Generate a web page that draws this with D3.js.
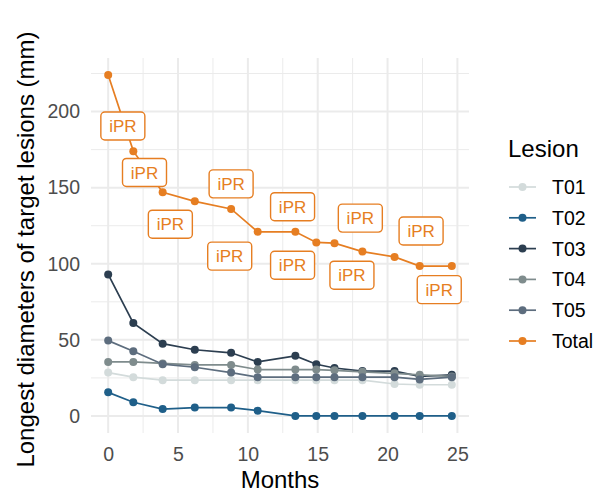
<!DOCTYPE html>
<html>
<head>
<meta charset="utf-8">
<script src="https://cdn.jsdelivr.net/npm/d3@7"></script>
<style>
  body { margin: 0; background: #fff; }
  text { font-family: "Liberation Sans", Arial, sans-serif; }
</style>
</head>
<body>
<svg id="chart" width="602" height="493"></svg>
<script>
// data
const months = [0, 1.8, 3.9, 6.2, 8.8, 10.7, 13.4, 14.9, 16.2, 18.2, 20.5, 22.3, 24.6];
const lesions = ["T01", "T02", "T03", "T04", "T05", "Total"];
const T01 = [28.5, 25.5, 23.5, 23.5, 23.5, 23.5, 23.5, 23.5, 23.5, 23.5, 21, 20.5, 20.5];
const T02 = [15.5, 9, 4.5, 5.5, 5.5, 3.5, 0, 0, 0, 0, 0, 0, 0];
const T03 = [93, 61, 47.5, 43.5, 41.5, 35.5, 39.5, 34, 31.5, 29.5, 29.5, 26, 27];
const T04 = [35.5, 35.5, 34.5, 33.5, 33.5, 30.5, 30.5, 30.5, 30, 29, 28, 27, 26];
const T05 = [49.5, 42.5, 34, 32, 28.5, 25.5, 25.5, 25.5, 25.5, 25.5, 25.5, 24, 25.5];
const Total = [224, 174, 147, 141, 136, 121, 121, 114, 113.5, 108, 104.5, 98.5, 98.5];

// "iPR" response labels (repelled positions, in data units)
const labelText = "iPR";
const labelMonth = [1.05, 2.6, 4.45, 8.8, 8.7, 13.2, 13.2, 18.05, 17.45, 22.4, 23.7];
const labelValue = [190.5, 160, 126, 152.5, 105, 137.5, 99, 130, 92.5, 121.5, 83];

const xTicks = [0, 5, 10, 15, 20, 25];
const yTicks = [0, 50, 100, 150, 200];

const colors = {
  T01: "#d3dbdb",
  T02: "#1f5f89",
  T03: "#2c3e50",
  T04: "#7f8c8d",
  T05: "#5d6d7e",
  Total: "#e67e22",
};

const valuesBy = { T01, T02, T03, T04, T05, Total };

// layout
const PANEL = { left: 91, right: 469, top: 58, bottom: 433 };
const TITLE_SIZE = "24px";
const TICK_SIZE = "19.5px";
const svg = d3.select("#chart");

const xMax = d3.max(months);
const yMax = d3.max(Total);
const x = d3.scaleLinear()
  .domain([-0.05 * xMax, xMax * 1.05])
  .range([PANEL.left, PANEL.right]);
const y = d3.scaleLinear()
  .domain([-0.05 * yMax, yMax * 1.05])
  .range([PANEL.bottom, PANEL.top]);

// grid
const grid = svg.append("g").attr("id", "grid");
const xMinor = xTicks.map((d) => d + 2.5).filter((d) => d <= x.domain()[1]);
const yMinor = yTicks.map((d) => d + 25).filter((d) => d <= y.domain()[1]);

grid.selectAll(".xminor").data(xMinor).join("line")
  .attr("x1", x).attr("x2", x)
  .attr("y1", PANEL.top).attr("y2", PANEL.bottom)
  .attr("stroke", "#ebebeb").attr("stroke-width", 1);
grid.selectAll(".yminor").data(yMinor).join("line")
  .attr("y1", y).attr("y2", y)
  .attr("x1", PANEL.left).attr("x2", PANEL.right)
  .attr("stroke", "#ebebeb").attr("stroke-width", 1);
grid.selectAll(".xmajor").data(xTicks).join("line")
  .attr("x1", x).attr("x2", x)
  .attr("y1", PANEL.top).attr("y2", PANEL.bottom)
  .attr("stroke", "#ebebeb").attr("stroke-width", 2);
grid.selectAll(".ymajor").data(yTicks).join("line")
  .attr("y1", y).attr("y2", y)
  .attr("x1", PANEL.left).attr("x2", PANEL.right)
  .attr("stroke", "#ebebeb").attr("stroke-width", 2);

// axes (labels only, like theme_minimal)
const xAxis = svg.append("g")
  .attr("transform", `translate(0, ${PANEL.bottom + 4})`)
  .call(d3.axisBottom(x).tickValues(xTicks).tickSize(0).tickPadding(10));
const yAxis = svg.append("g")
  .attr("transform", `translate(${PANEL.left - 4}, 0)`)
  .call(d3.axisLeft(y).tickValues(yTicks).tickSize(0).tickPadding(7));
[xAxis, yAxis].forEach((g) => {
  g.select(".domain").remove();
  g.selectAll("text")
    .attr("fill", "#4d4d4d")
    .style("font-size", TICK_SIZE)
    .style("font-family", "'Liberation Sans', Arial, sans-serif");
});

svg.append("text")
  .attr("x", (PANEL.left + PANEL.right) / 2)
  .attr("y", 488)
  .attr("text-anchor", "middle")
  .style("font-size", TITLE_SIZE)
  .text("Months");

svg.append("text")
  .attr("transform", `translate(34, ${(PANEL.top + PANEL.bottom) / 2 + 4}) rotate(-90)`)
  .attr("text-anchor", "middle")
  .style("font-size", TITLE_SIZE)
  .text("Longest diameters of target lesions (mm)");

// series lines and points
const line = d3.line()
  .x((d) => x(d[0]))
  .y((d) => y(d[1]));

const series = svg.append("g").attr("id", "series");
lesions.forEach((name) => {
  const pts = months.map((m, i) => [m, valuesBy[name][i]]);
  const g = series.append("g");
  g.append("path")
    .datum(pts)
    .attr("fill", "none")
    .attr("stroke", colors[name])
    .attr("stroke-width", 1.7)
    .attr("d", line);
  g.selectAll("circle").data(pts).join("circle")
    .attr("cx", (d) => x(d[0]))
    .attr("cy", (d) => y(d[1]))
    .attr("r", 4)
    .attr("fill", colors[name]);
});

// iPR labels
const LABEL_W = 44;
const LABEL_H = 28;
const labels = svg.append("g").attr("id", "labels")
  .selectAll("g")
  .data(labelMonth.map((m, i) => [m, labelValue[i]]))
  .join("g")
  .attr("transform", (d) => `translate(${x(d[0])}, ${y(d[1])})`);
labels.append("rect")
  .attr("x", -LABEL_W / 2).attr("y", -LABEL_H / 2)
  .attr("width", LABEL_W).attr("height", LABEL_H)
  .attr("rx", 4)
  .attr("fill", "#fff")
  .attr("stroke", colors.Total)
  .attr("stroke-width", 1.4);
labels.append("text")
  .attr("text-anchor", "middle")
  .attr("dy", "0.36em")
  .attr("fill", colors.Total)
  .style("font-size", "17px")
  .text(labelText);

// legend
const legend = svg.append("g").attr("transform", "translate(497, 0)");
legend.append("text")
  .attr("x", 11).attr("y", 157)
  .style("font-size", TITLE_SIZE)
  .text("Lesion");
const legendY = d3.scalePoint().domain(lesions).range([187, 341]);
const items = legend.selectAll(".item").data(lesions).join("g")
  .attr("transform", (d) => `translate(0, ${legendY(d)})`);
items.append("line")
  .attr("x1", 12).attr("x2", 39)
  .attr("stroke", (d) => colors[d])
  .attr("stroke-width", 1.7);
items.append("circle")
  .attr("cx", 25.5).attr("r", 4)
  .attr("fill", (d) => colors[d]);
items.append("text")
  .attr("x", 55).attr("dy", "0.36em")
  .style("font-size", TICK_SIZE)
  .text((d) => d);
</script>
</body>
</html>
